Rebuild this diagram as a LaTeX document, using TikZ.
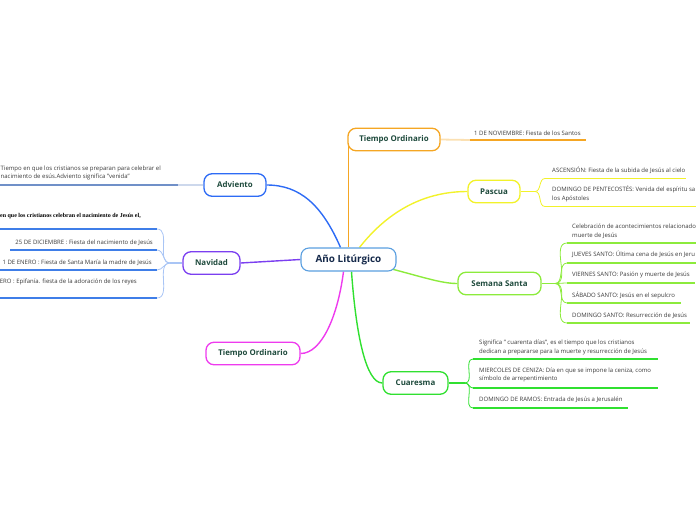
\documentclass[tikz,border=0pt]{standalone}
\usepackage{fontspec}
\setmainfont{Open Sans}
\newfontfamily\serifb{Liberation Serif}
\usetikzlibrary{backgrounds}
\definecolor{cblue}{HTML}{2D6BF5}
\definecolor{cnavline}{HTML}{3F7EE8}
\definecolor{cadvline}{HTML}{7090C8}
\definecolor{cpurple}{HTML}{7B3FF0}
\definecolor{cmag}{HTML}{EE3BEE}
\definecolor{corange}{HTML}{F5A623}
\definecolor{cyellow}{HTML}{F2F22A}
\definecolor{clime}{HTML}{8CEB3C}
\definecolor{cgreen}{HTML}{30E030}
\definecolor{ccenter}{HTML}{5A9FE0}
\definecolor{topictext}{HTML}{1E4A3C}
\definecolor{centertext}{HTML}{15294A}
\definecolor{leaftext}{HTML}{3A3A3A}
\tikzset{
  topic/.style={draw, fill=white, rounded corners=8pt, line width=1.3pt,
    minimum height=22.5pt, inner sep=0pt, text=topictext,
    font=\bfseries\fontsize{7.9}{9}\selectfont},
  centre/.style={draw=ccenter, fill=white, rounded corners=8pt, line width=1.1pt,
    minimum height=23pt, minimum width=95pt, inner sep=0pt, text=centertext,
    font=\bfseries\fontsize{9.9}{11}\selectfont},
  leaf/.style={inner sep=0pt, text depth=0pt, align=left, text=leaftext,
    font=\fontsize{6}{8.7}\selectfont},
  conn/.style={line width=1.4pt},
  uline/.style={line width=1.8pt},
  fork/.style={line width=0.8pt}
}
\begin{document}
\begin{tikzpicture}[x=1pt,y=-1pt]
\useasboundingbox (0,0) rectangle (696,520);
\clip (0,0) rectangle (696,520);

% ---------- topic nodes ----------
\node[centre] (c) at (348.5,259.5) {Año Litúrgico};
\node[topic, draw=cblue, minimum width=62pt] (adv) at (235,185) {Adviento};
\node[topic, draw=cpurple, minimum width=57pt] (nav) at (211.5,263) {Navidad};
\node[topic, draw=cmag, minimum width=94pt] (tom) at (253,353.5) {Tiempo Ordinario};
\node[topic, draw=corange, minimum width=92pt] (too) at (394,139.5) {Tiempo Ordinario};
\node[topic, draw=cyellow, minimum width=52pt] (pas) at (494,191.5) {Pascua};
\node[topic, draw=clime, minimum width=83pt] (ss) at (499.5,283.5) {Semana Santa};
\node[topic, draw=cgreen, minimum width=65pt] (cua) at (415.5,383) {Cuaresma};

% ---------- leaf texts ----------
\node[leaf, anchor=south west] (advt) at (0.5,179) {Tiempo en que los cristianos se preparan para celebrar el\\nacimiento de esús.Adviento significa "venida"};

\node[leaf, anchor=south east, font=\serifb\bfseries\fontsize{6}{7}\selectfont, text=black] (nav0) at (141,218) {en que los cristianos celebran el nacimiento de Jesús el,};
\node[leaf, anchor=south east] (nav1) at (153,245) {25 DE DICIEMBRE : Fiesta del nacimiento de Jesús};
\node[leaf, anchor=south east] (nav2) at (152,265) {1 DE ENERO : Fiesta de Santa María la madre de Jesús};
\node[leaf, anchor=south east] (nav3) at (137,284) {6 DE ENERO : Epifanía. fiesta de la adoración de los reyes};

\node[leaf, anchor=south west] (oo1) at (474,135.5) {1 DE NOVIEMBRE: Fiesta de los Santos};

\node[leaf, anchor=south west] (pa1) at (552,173) {ASCENSIÓN: Fiesta de la subida de Jesús al cielo};
\node[leaf, anchor=south west] (pa2) at (552,200.5) {DOMINGO DE PENTECOSTÉS: Venida del espíritu sa\\los Apóstoles};

\node[leaf, anchor=south west] (ss1) at (572,237.5) {Celebración de acontecimientos relacionado\\muerte de Jesús};
\node[leaf, anchor=south west] (ss2) at (572,257) {JUEVES SANTO: Última cena de Jesús en Jeru};
\node[leaf, anchor=south west] (ss3) at (572,276.5) {VIERNES SANTO: Pasión y muerte de Jesús};
\node[leaf, anchor=south west] (ss4) at (572,297.5) {SÁBADO SANTO: Jesús en el sepulcro};
\node[leaf, anchor=south west] (ss5) at (572,318) {DOMINGO SANTO: Resurrección de Jesús};

\node[leaf, anchor=south west] (cu1) at (479,353.5) {Significa " cuarenta días", es el tiempo que los cristianos\\dedican a prepararse para la muerte y resurrección de Jesús};
\node[leaf, anchor=south west] (cu2) at (479,381) {MIERCOLES DE CENIZA: Día en que se impone la ceniza, como\\símbolo de arrepentimiento};
\node[leaf, anchor=south west] (cu3) at (479,402) {DOMINGO DE RAMOS: Entrada de Jesús a Jerusalén};

% ---------- connectors (behind nodes) ----------
\begin{pgfonlayer}{background}
% centre to topics
\draw[conn, cblue] ([xshift=-8pt]c.north) .. controls (322,205) and (300,185) .. (adv.east);
\draw[conn, cpurple] (c.west) -- (nav.east);
\draw[conn, cmag] ([xshift=-5pt]c.south) .. controls (338,315) and (322,353.5) .. (tom.east);
\draw[conn, corange] ([xshift=1pt]c.north -| too.west) -- ([xshift=1pt]too.west);
\draw[conn, cyellow] ([xshift=11pt]c.north) .. controls (385,215) and (420,191.5) .. (pas.west);
\draw[conn, clime] (380,266) .. controls (420,276) and (440,283.5) .. (ss.west);
\draw[conn, cgreen] ([xshift=3pt]c.south) .. controls (356,335) and (366,383) .. (cua.west);

% Adviento leaf
\coordinate (advu0) at (0,185);
\coordinate (advu1) at (178,185);
\draw[uline, cadvline] (advu0) -- (advu1);
\draw[uline, cadvline!35] (advu1) -- (adv.west);

% Navidad leaves
\coordinate (navf) at (170,263);
\draw[fork, cnavline!45, line width=1.2pt] (nav.west) -- (navf);
\coordinate (nu0) at (157,229);
\coordinate (nu1) at (157,250);
\coordinate (nu2) at (157,270);
\coordinate (nu3) at (157,298);
\foreach \u in {nu0,nu1,nu2,nu3}{\draw[fork, cnavline!45] (navf) to[out=180,in=0] (\u);}
\draw[uline, cnavline] (0,229) -- (nu0);
\draw[uline, cnavline] (10,250) -- (nu1);
\draw[uline, cnavline] (0,270) -- (nu2);
\draw[uline, cnavline] (0,298) -- (nu3);

% Tiempo Ordinario (orange) leaf
\coordinate (oou) at (470,140);
\draw[uline, corange!35] (too.east) -- (oou);
\draw[uline, corange] (oou) -- (586,140);

% Pascua leaves
\coordinate (pasf) at (535,191.5);
\draw[fork, cyellow, line width=1.2pt] (pas.east) -- (pasf);
\coordinate (pu1) at (545,178.5);
\coordinate (pu2) at (545,206.5);
\foreach \u in {pu1,pu2}{\draw[fork, cyellow] (pasf) to[out=0,in=180] (\u);}
\draw[uline, cyellow] (pu1) -- (686,178.5);
\draw[uline, cyellow] (pu2) -- (700,206.5);

% Semana Santa leaves
\coordinate (ssf) at (555,283.5);
\draw[fork, clime, line width=1.2pt] (ss.east) -- (ssf);
\coordinate (su1) at (567,243);
\coordinate (su2) at (567,263);
\coordinate (su3) at (567,283);
\coordinate (su4) at (567,303);
\coordinate (su5) at (567,323);
\foreach \u in {su1,su2,su3,su4,su5}{\draw[fork, clime] (ssf) to[out=0,in=180] (\u);}
\draw[uline, clime] (su1) -- (700,243);
\draw[uline, clime] (su2) -- (700,263);
\draw[uline, clime] (su3) -- (695,283);
\draw[uline, clime] (su4) -- (681,303);
\draw[uline, clime] (su5) -- (690,323);

% Cuaresma leaves
\coordinate (cuf) at (465,383);
\draw[fork, cgreen, line width=1.2pt] (cua.east) -- (cuf);
\coordinate (cu1u) at (473,359);
\coordinate (cu2u) at (473,388);
\coordinate (cu3u) at (473,408);
\foreach \u in {cu1u,cu2u,cu3u}{\draw[fork, cgreen] (cuf) to[out=0,in=180] (\u);}
\draw[uline, cgreen] (cu1u) -- (658,359);
\draw[uline, cgreen] (cu2u) -- (658,388);
\draw[uline, cgreen] (cu3u) -- (628,408);
\end{pgfonlayer}
\end{tikzpicture}
\end{document}
